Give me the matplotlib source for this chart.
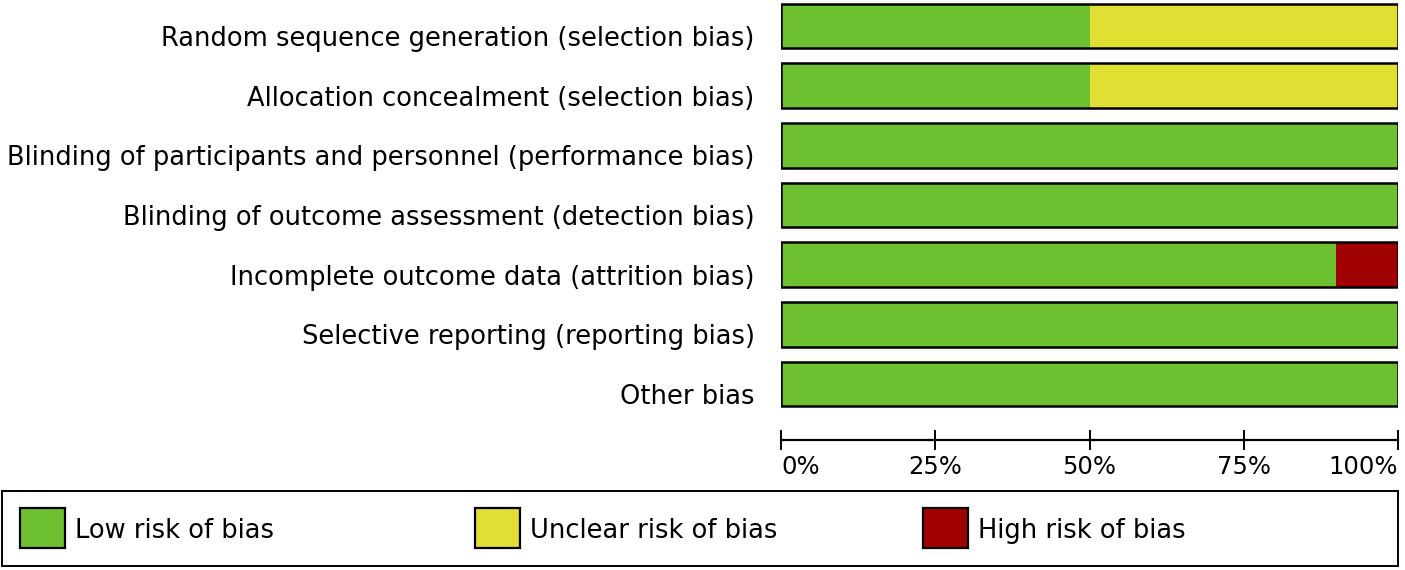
import matplotlib.pyplot as plt
from matplotlib.patches import Rectangle
from matplotlib.transforms import ScaledTranslation

plt.rcParams['font.family'] = ['DejaVu Sans']

domains = ['Random sequence generation (selection bias)',
           'Allocation concealment (selection bias)',
           'Blinding of participants and personnel (performance bias)',
           'Blinding of outcome assessment (detection bias)',
           'Incomplete outcome data (attrition bias)',
           'Selective reporting (reporting bias)',
           'Other bias']
low = [50, 50, 100, 100, 90, 100, 100]
unclear = [50, 50, 0, 0, 0, 0, 0]
high = [0, 0, 0, 0, 10, 0, 0]

categories = ['Low risk of bias', 'Unclear risk of bias', 'High risk of bias']
colors = ['#6dc02f', '#e1df34', '#a10000']
xticks = [0, 25, 50, 75, 100]
xticklabels = ['0%', '25%', '50%', '75%', '100%']

W, H = 1405, 570
fig = plt.figure(figsize=(W / 100, H / 100), dpi=100)

# main bar axes, in pixel positions of the reference
ax = fig.add_axes([781 / W, 1 - 440 / H, 617 / W, 439 / H])
y = list(range(len(domains)))
left = [0] * len(domains)
for vals, col in zip([low, unclear, high], colors):
    ax.barh(y, vals, left=left, height=0.75, color=col,
            edgecolor='none', zorder=2)
    left = [a + b for a, b in zip(left, vals)]
# outline of each bar
ax.barh(y, left, height=0.75, color='none', edgecolor='black',
        linewidth=1.8, zorder=3)

ax.set_xlim(0, 100)
ax.set_ylim(6.94, -0.42)
ax.set_yticks(y)
ax.set_yticklabels(domains, fontsize=18.5)
ax.tick_params(axis='y', length=0, pad=19)
# labels sit a little below the bar centres in the original
shift = ScaledTranslation(0, -0.1, fig.dpi_scale_trans)
for lab in ax.get_yticklabels():
    lab.set_transform(lab.get_transform() + shift)
for s in ['top', 'left', 'right']:
    ax.spines[s].set_visible(False)
ax.spines['bottom'].set_linewidth(1.6)
ax.set_xticks(xticks)
ax.set_xticklabels(xticklabels, fontsize=17.5)
ax.tick_params(axis='x', direction='inout', length=15, width=1.4, pad=3)
for lab, ha in zip(ax.get_xticklabels(), ['left', 'center', 'center', 'center', 'right']):
    lab.set_ha(ha)

# legend box
lax = fig.add_axes([2 / W, 1 - 566 / H, 1396 / W, 75 / H])
lax.set_xlim(0, 1396)
lax.set_ylim(75, 0)
lax.set_xticks([])
lax.set_yticks([])
for s in lax.spines.values():
    s.set_linewidth(1.4)
xpos = [18, 473, 921]
for x0, col, name in zip(xpos, colors, categories):
    lax.add_patch(Rectangle((x0, 17), 45, 40, facecolor=col,
                            edgecolor='black', linewidth=1.6))
    lax.text(x0 + 55, 40, name, fontsize=18.5, va='center', ha='left')

fig.savefig('out.png', dpi=100, facecolor='white')
